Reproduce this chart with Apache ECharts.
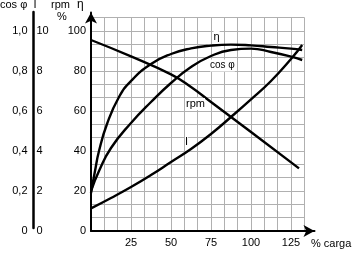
<!DOCTYPE html>
<html>
<head>
<meta charset="utf-8">
<script src="https://cdn.jsdelivr.net/npm/echarts@6/dist/echarts.min.js"></script>
<style>html,body{margin:0;padding:0;background:#fff}#c{width:356px;height:253px}</style>
</head>
<body>
<div id="c"></div>
<script>
// ---- data ----
const xTickLabels = ['25', '50', '75', '100', '125'];
const yTickLabels = ['0', '20', '40', '60', '80', '100'];
const cosTickLabels = ['0', '0,2', '0,4', '0,6', '0,8', '1,0'];
const iTickLabels = ['0', '2', '4', '6', '8', '10'];

// load (% carga) and value (% of full scale) pairs
const etaLoad = [0, 2.5, 5, 10, 17.5, 25, 37.5, 50, 62.5, 75, 87.5, 100, 112.5, 125, 132];
const etaPct  = [19, 30, 40, 53.5, 67, 75, 83.5, 88.5, 91.3, 92.7, 93.2, 92.8, 92, 91.2, 90.5];

const cosLoad = [0, 5, 12.5, 25, 37.5, 50, 62.5, 75, 87.5, 100, 112.5, 125, 132];
const cosPct  = [20, 30, 41.5, 54, 64.5, 74, 82, 87.5, 90.5, 91.2, 89.5, 87.2, 85.5];

const rpmLoad = [0, 25, 50, 62.5, 75, 100, 130];
const rpmPct  = [95.5, 87.3, 78.3, 72, 64.5, 49.5, 31.3];

const iLoad = [0, 12.5, 25, 37.5, 50, 62.5, 75, 87.5, 100, 112.5, 125, 132];
const iPct  = [11.3, 16.5, 22, 28, 34.5, 41, 48.5, 57, 65.8, 75, 86, 93];

// ---- chart ----
const FONT = 'Liberation Sans, Arial, sans-serif';
const pairs = (xs, ys) => xs.map((x, i) => [x, ys[i]]);
const lbl = (arr, step) => v => {
  const k = v / step;
  if (Math.abs(k - Math.round(k)) > 1e-6) return '';
  return arr[Math.round(k)] || '';
};
const txt = (text, left, top, size, bg) => ({
  text, left, top, padding: 0,
  textStyle: { fontFamily: FONT, fontSize: size || 11, fontWeight: 'normal', color: '#000', lineHeight: 12 },
  backgroundColor: bg ? '#fff' : 'transparent'
});

const chart = echarts.init(document.getElementById('c'), null, { renderer: 'canvas' });
const line = (name, xs, ys) => ({
  name, type: 'line', xAxisIndex: 1, yAxisIndex: 1,
  data: pairs(xs, ys), smooth: 0.5, symbol: 'none',
  lineStyle: { color: '#000', width: 2.4 }, z: 5
});

chart.setOption({
  animation: false,
  backgroundColor: '#fff',
  title: [
    txt('cos φ', 0, -1),
    txt('I', 33.5, -1),
    txt('rpm', 51, -1),
    txt('η', 77, -1, 12),
    txt('%', 57, 11),
    txt('η', 213.5, 31, 11, true),
    txt('cos φ', 210, 59.5, 10, true),
    txt('rpm', 186, 98, 11, true),
    txt('I', 185, 136, 11, true),
    txt('% carga', 311, 238, 11)
  ],
  grid: [
    { left: 91, top: 12.5, width: 223.5, height: 218.5 },
    { left: 91, top: 231 - 640 / 3, width: 640 / 3, height: 640 / 3 },
    { left: 33.5, top: 12, width: 1, height: 216 }
  ],
  xAxis: [
    { gridIndex: 0, type: 'value', min: 0, max: 223.5 / 1.6, interval: 25,
      axisLine: { show: true, lineStyle: { color: '#000', width: 2 }, symbol: ['none', 'arrow'], symbolSize: [9, 11] },
      axisTick: { show: false }, splitLine: { show: false },
      axisLabel: { margin: 6, color: '#000', fontFamily: FONT, fontSize: 11,
        formatter: v => (v === 0 ? '' : lbl(['', ...xTickLabels], 25)(v)) } },
    { gridIndex: 1, type: 'value', min: 0, max: 400 / 3, interval: 25 / 3,
      axisLine: { show: false }, axisTick: { show: false }, axisLabel: { show: false },
      splitLine: { show: true, lineStyle: { color: '#b0b0b0', width: 1 } } },
    { gridIndex: 2, type: 'value', show: false }
  ],
  yAxis: [
    { gridIndex: 0, type: 'value', min: 0, max: 218.5 / 2, interval: 20,
      axisLine: { show: true, lineStyle: { color: '#000', width: 2 }, symbol: ['none', 'arrow'], symbolSize: [9, 11] },
      axisTick: { show: false }, splitLine: { show: false },
      axisLabel: { margin: 5, color: '#000', fontFamily: FONT, fontSize: 11, formatter: lbl(yTickLabels, 20) } },
    { gridIndex: 1, type: 'value', min: 0, max: 320 / 3, interval: 20 / 3,
      axisLine: { show: false }, axisTick: { show: false }, axisLabel: { show: false },
      splitLine: { show: true, lineStyle: { color: '#b0b0b0', width: 1 } } },
    { gridIndex: 1, type: 'value', position: 'left', offset: 57.5, min: 0, max: 16 / 15, interval: 0.2,
      axisLine: { show: false }, axisTick: { show: false }, splitLine: { show: false },
      axisLabel: { margin: 6, color: '#000', fontFamily: FONT, fontSize: 11, formatter: lbl(cosTickLabels, 0.2) } },
    { gridIndex: 1, type: 'value', position: 'left', offset: 57.5, min: 0, max: 32 / 3, interval: 2,
      axisLine: { show: false }, axisTick: { show: false }, splitLine: { show: false },
      axisLabel: { inside: true, margin: 3, color: '#000', fontFamily: FONT, fontSize: 11, formatter: lbl(iTickLabels, 2) } },
    { gridIndex: 2, type: 'value', min: 0, max: 1,
      axisLine: { show: true, lineStyle: { color: '#000', width: 2.5 } },
      axisTick: { show: false }, axisLabel: { show: false }, splitLine: { show: false } }
  ],
  series: [
    line('η', etaLoad, etaPct),
    line('cos φ', cosLoad, cosPct),
    line('rpm', rpmLoad, rpmPct),
    line('I', iLoad, iPct)
  ]
});
</script>
</body>
</html>
